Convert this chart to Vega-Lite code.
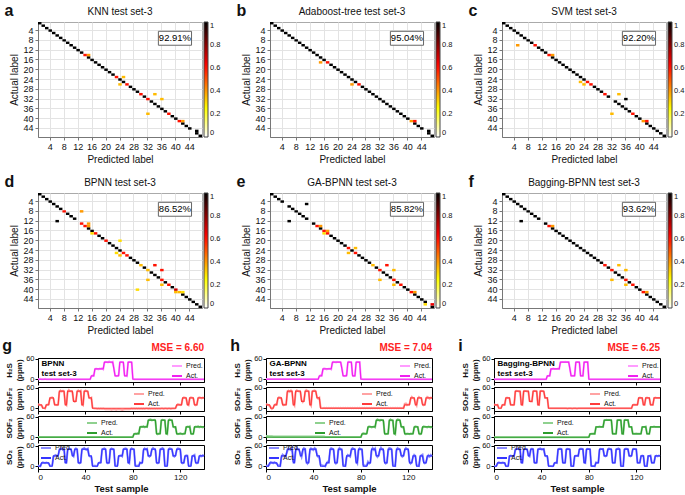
{
"$schema":"https://vega.github.io/schema/vega-lite/v6.json",
"padding":{"left":2,"top":2,"right":2,"bottom":2},
"background":"white",
"config":{
 "font":"Liberation Sans",
 "view":{"stroke":"#000","strokeWidth":1},
 "axis":{"grid":false,"domainColor":"#000","tickColor":"#000","labelColor":"#111","titleColor":"#111","labelFontSize":8,"titleFontSize":9,"tickSize":3,"labelPadding":1,"titlePadding":2,"labelFont":"Liberation Sans","titleFont":"Liberation Sans","zindex":0},
 "legend":{"labelFontSize":7,"symbolSize":100,"symbolStrokeWidth":2,"rowPadding":-1,"padding":0,"labelOffset":3,"labelColor":"#111","labelFont":"Liberation Sans"},
 "title":{"color":"#111","font":"Liberation Sans"}
},
"datasets":{
"cm":[
{"m":"a","p":1,"t":1,"v":1},{"m":"a","p":2,"t":2,"v":1},{"m":"a","p":3,"t":3,"v":1},{"m":"a","p":4,"t":4,"v":1},{"m":"a","p":5,"t":5,"v":1},{"m":"a","p":6,"t":6,"v":1},{"m":"a","p":7,"t":7,"v":1},{"m":"a","p":8,"t":8,"v":1},{"m":"a","p":9,"t":9,"v":1},{"m":"a","p":10,"t":10,"v":1},{"m":"a","p":11,"t":11,"v":1},{"m":"a","p":12,"t":12,"v":1},{"m":"a","p":13,"t":13,"v":1},{"m":"a","p":14,"t":14,"v":0.6},{"m":"a","p":15,"t":15,"v":1},{"m":"a","p":16,"t":16,"v":1},{"m":"a","p":17,"t":17,"v":1},{"m":"a","p":18,"t":18,"v":1},{"m":"a","p":19,"t":19,"v":1},{"m":"a","p":20,"t":20,"v":1},{"m":"a","p":21,"t":21,"v":1},{"m":"a","p":22,"t":22,"v":1},{"m":"a","p":23,"t":23,"v":0.6},{"m":"a","p":24,"t":24,"v":1},{"m":"a","p":25,"t":25,"v":1},{"m":"a","p":26,"t":26,"v":0.6},{"m":"a","p":27,"t":27,"v":1},{"m":"a","p":28,"t":28,"v":1},{"m":"a","p":29,"t":29,"v":1},{"m":"a","p":30,"t":30,"v":0.6},{"m":"a","p":31,"t":31,"v":1},{"m":"a","p":32,"t":32,"v":0.6},{"m":"a","p":33,"t":33,"v":1},{"m":"a","p":34,"t":34,"v":1},{"m":"a","p":35,"t":35,"v":1},{"m":"a","p":36,"t":36,"v":1},{"m":"a","p":37,"t":37,"v":1},{"m":"a","p":38,"t":38,"v":0.6},{"m":"a","p":39,"t":39,"v":1},{"m":"a","p":40,"t":40,"v":1},{"m":"a","p":41,"t":41,"v":0.6},{"m":"a","p":42,"t":42,"v":1},{"m":"a","p":43,"t":43,"v":1},{"m":"a","p":44,"t":44,"v":1},{"m":"a","p":46,"t":46,"v":1},{"m":"a","p":47,"t":47,"v":1},
{"m":"a","p":15,"t":14,"v":0.4},{"m":"a","p":25,"t":23,"v":0.35},{"m":"a","p":24,"t":26,"v":0.35},{"m":"a","p":34,"t":30,"v":0.35},{"m":"a","p":36,"t":32,"v":0.35},{"m":"a","p":32,"t":38,"v":0.35},{"m":"a","p":42,"t":41,"v":0.4},{"m":"a","p":46,"t":45,"v":1},
{"m":"b","p":1,"t":1,"v":1},{"m":"b","p":2,"t":2,"v":1},{"m":"b","p":3,"t":3,"v":1},{"m":"b","p":4,"t":4,"v":1},{"m":"b","p":5,"t":5,"v":1},{"m":"b","p":6,"t":6,"v":1},{"m":"b","p":7,"t":7,"v":1},{"m":"b","p":8,"t":8,"v":1},{"m":"b","p":9,"t":9,"v":1},{"m":"b","p":10,"t":10,"v":1},{"m":"b","p":11,"t":11,"v":1},{"m":"b","p":12,"t":12,"v":1},{"m":"b","p":13,"t":13,"v":1},{"m":"b","p":14,"t":14,"v":1},{"m":"b","p":15,"t":15,"v":1},{"m":"b","p":16,"t":16,"v":1},{"m":"b","p":17,"t":17,"v":0.6},{"m":"b","p":18,"t":18,"v":1},{"m":"b","p":19,"t":19,"v":1},{"m":"b","p":20,"t":20,"v":1},{"m":"b","p":21,"t":21,"v":1},{"m":"b","p":22,"t":22,"v":1},{"m":"b","p":23,"t":23,"v":1},{"m":"b","p":24,"t":24,"v":1},{"m":"b","p":25,"t":25,"v":1},{"m":"b","p":26,"t":26,"v":0.6},{"m":"b","p":27,"t":27,"v":1},{"m":"b","p":28,"t":28,"v":1},{"m":"b","p":29,"t":29,"v":1},{"m":"b","p":30,"t":30,"v":1},{"m":"b","p":31,"t":31,"v":1},{"m":"b","p":32,"t":32,"v":1},{"m":"b","p":33,"t":33,"v":1},{"m":"b","p":34,"t":34,"v":1},{"m":"b","p":35,"t":35,"v":1},{"m":"b","p":36,"t":36,"v":1},{"m":"b","p":37,"t":37,"v":1},{"m":"b","p":38,"t":38,"v":1},{"m":"b","p":39,"t":39,"v":1},{"m":"b","p":40,"t":40,"v":1},{"m":"b","p":41,"t":41,"v":0.4},{"m":"b","p":42,"t":42,"v":1},{"m":"b","p":43,"t":43,"v":1},{"m":"b","p":44,"t":44,"v":1},{"m":"b","p":46,"t":46,"v":1},{"m":"b","p":47,"t":47,"v":1},
{"m":"b","p":15,"t":17,"v":0.4},{"m":"b","p":24,"t":26,"v":0.4},{"m":"b","p":42,"t":41,"v":0.6},{"m":"b","p":46,"t":45,"v":1},
{"m":"c","p":1,"t":1,"v":1},{"m":"c","p":2,"t":2,"v":1},{"m":"c","p":3,"t":3,"v":1},{"m":"c","p":4,"t":4,"v":1},{"m":"c","p":5,"t":5,"v":1},{"m":"c","p":6,"t":6,"v":1},{"m":"c","p":7,"t":7,"v":1},{"m":"c","p":8,"t":8,"v":1},{"m":"c","p":9,"t":9,"v":1},{"m":"c","p":10,"t":10,"v":0.6},{"m":"c","p":11,"t":11,"v":1},{"m":"c","p":12,"t":12,"v":1},{"m":"c","p":13,"t":13,"v":1},{"m":"c","p":14,"t":14,"v":0.6},{"m":"c","p":15,"t":15,"v":1},{"m":"c","p":16,"t":16,"v":1},{"m":"c","p":17,"t":17,"v":1},{"m":"c","p":18,"t":18,"v":1},{"m":"c","p":19,"t":19,"v":1},{"m":"c","p":20,"t":20,"v":1},{"m":"c","p":21,"t":21,"v":1},{"m":"c","p":22,"t":22,"v":1},{"m":"c","p":23,"t":23,"v":1},{"m":"c","p":24,"t":24,"v":1},{"m":"c","p":25,"t":25,"v":0.6},{"m":"c","p":26,"t":26,"v":0.6},{"m":"c","p":27,"t":27,"v":1},{"m":"c","p":28,"t":28,"v":1},{"m":"c","p":29,"t":29,"v":1},{"m":"c","p":30,"t":30,"v":0.6},{"m":"c","p":31,"t":31,"v":1},{"m":"c","p":33,"t":33,"v":1},{"m":"c","p":34,"t":34,"v":1},{"m":"c","p":35,"t":35,"v":1},{"m":"c","p":36,"t":36,"v":1},{"m":"c","p":37,"t":37,"v":1},{"m":"c","p":38,"t":38,"v":0.6},{"m":"c","p":39,"t":39,"v":1},{"m":"c","p":40,"t":40,"v":1},{"m":"c","p":41,"t":41,"v":0.4},{"m":"c","p":42,"t":42,"v":1},{"m":"c","p":43,"t":43,"v":1},{"m":"c","p":44,"t":44,"v":1},{"m":"c","p":45,"t":45,"v":1},{"m":"c","p":46,"t":46,"v":1},{"m":"c","p":47,"t":47,"v":1},
{"m":"c","p":5,"t":10,"v":0.4},{"m":"c","p":15,"t":14,"v":0.4},{"m":"c","p":23,"t":25,"v":0.35},{"m":"c","p":24,"t":26,"v":0.35},{"m":"c","p":34,"t":30,"v":0.35},{"m":"c","p":36,"t":32,"v":1},{"m":"c","p":32,"t":38,"v":0.35},{"m":"c","p":42,"t":41,"v":0.6},
{"m":"d","p":1,"t":1,"v":1},{"m":"d","p":2,"t":2,"v":1},{"m":"d","p":3,"t":3,"v":1},{"m":"d","p":4,"t":4,"v":1},{"m":"d","p":5,"t":5,"v":1},{"m":"d","p":6,"t":6,"v":1},{"m":"d","p":7,"t":7,"v":1},{"m":"d","p":8,"t":8,"v":0.6},{"m":"d","p":9,"t":9,"v":1},{"m":"d","p":10,"t":10,"v":1},{"m":"d","p":11,"t":11,"v":1},{"m":"d","p":13,"t":13,"v":0.6},{"m":"d","p":14,"t":14,"v":0.6},{"m":"d","p":15,"t":15,"v":1},{"m":"d","p":16,"t":16,"v":1},{"m":"d","p":17,"t":17,"v":0.6},{"m":"d","p":18,"t":18,"v":1},{"m":"d","p":19,"t":19,"v":1},{"m":"d","p":20,"t":20,"v":0.6},{"m":"d","p":21,"t":21,"v":1},{"m":"d","p":22,"t":22,"v":1},{"m":"d","p":23,"t":23,"v":1},{"m":"d","p":24,"t":24,"v":1},{"m":"d","p":25,"t":25,"v":0.6},{"m":"d","p":26,"t":26,"v":0.6},{"m":"d","p":27,"t":27,"v":1},{"m":"d","p":28,"t":28,"v":1},{"m":"d","p":29,"t":29,"v":1},{"m":"d","p":30,"t":30,"v":0.35},{"m":"d","p":31,"t":31,"v":1},{"m":"d","p":32,"t":32,"v":0.35},{"m":"d","p":33,"t":33,"v":1},{"m":"d","p":34,"t":34,"v":1},{"m":"d","p":35,"t":35,"v":1},{"m":"d","p":36,"t":36,"v":0.6},{"m":"d","p":37,"t":37,"v":1},{"m":"d","p":38,"t":38,"v":0.6},{"m":"d","p":39,"t":39,"v":1},{"m":"d","p":40,"t":40,"v":0.7},{"m":"d","p":41,"t":41,"v":0.35},{"m":"d","p":42,"t":42,"v":1},{"m":"d","p":43,"t":43,"v":1},{"m":"d","p":44,"t":44,"v":1},{"m":"d","p":45,"t":45,"v":1},{"m":"d","p":46,"t":46,"v":1},{"m":"d","p":47,"t":47,"v":1},
{"m":"d","p":13,"t":8,"v":0.4},{"m":"d","p":6,"t":12,"v":1},{"m":"d","p":15,"t":13,"v":0.4},{"m":"d","p":15,"t":14,"v":0.4},{"m":"d","p":16,"t":17,"v":0.3},{"m":"d","p":24,"t":20,"v":0.3},{"m":"d","p":23,"t":25,"v":0.3},{"m":"d","p":24,"t":26,"v":0.35},{"m":"d","p":34,"t":30,"v":0.6},{"m":"d","p":36,"t":32,"v":0.6},{"m":"d","p":32,"t":36,"v":0.35},{"m":"d","p":36,"t":38,"v":0.35},{"m":"d","p":29,"t":40,"v":0.3},{"m":"d","p":40,"t":41,"v":0.35},{"m":"d","p":42,"t":41,"v":0.3},
{"m":"e","p":1,"t":1,"v":1},{"m":"e","p":2,"t":2,"v":1},{"m":"e","p":3,"t":3,"v":1},{"m":"e","p":4,"t":4,"v":1},{"m":"e","p":6,"t":6,"v":1},{"m":"e","p":7,"t":7,"v":1},{"m":"e","p":8,"t":8,"v":1},{"m":"e","p":9,"t":9,"v":1},{"m":"e","p":10,"t":10,"v":1},{"m":"e","p":11,"t":11,"v":1},{"m":"e","p":13,"t":13,"v":1},{"m":"e","p":14,"t":14,"v":0.6},{"m":"e","p":15,"t":15,"v":1},{"m":"e","p":16,"t":16,"v":0.6},{"m":"e","p":17,"t":17,"v":0.6},{"m":"e","p":18,"t":18,"v":1},{"m":"e","p":19,"t":19,"v":1},{"m":"e","p":20,"t":20,"v":1},{"m":"e","p":21,"t":21,"v":1},{"m":"e","p":22,"t":22,"v":1},{"m":"e","p":23,"t":23,"v":0.6},{"m":"e","p":24,"t":24,"v":1},{"m":"e","p":25,"t":25,"v":0.6},{"m":"e","p":26,"t":26,"v":1},{"m":"e","p":27,"t":27,"v":1},{"m":"e","p":28,"t":28,"v":1},{"m":"e","p":29,"t":29,"v":1},{"m":"e","p":30,"t":30,"v":0.35},{"m":"e","p":31,"t":31,"v":1},{"m":"e","p":32,"t":32,"v":0.6},{"m":"e","p":33,"t":33,"v":1},{"m":"e","p":34,"t":34,"v":1},{"m":"e","p":35,"t":35,"v":1},{"m":"e","p":36,"t":36,"v":0.6},{"m":"e","p":37,"t":37,"v":1},{"m":"e","p":38,"t":38,"v":0.6},{"m":"e","p":39,"t":39,"v":1},{"m":"e","p":40,"t":40,"v":1},{"m":"e","p":41,"t":41,"v":0.6},{"m":"e","p":42,"t":42,"v":1},{"m":"e","p":43,"t":43,"v":1},{"m":"e","p":44,"t":44,"v":1},{"m":"e","p":45,"t":45,"v":1},{"m":"e","p":47,"t":47,"v":1},
{"m":"e","p":11,"t":5,"v":1},{"m":"e","p":6,"t":12,"v":1},{"m":"e","p":15,"t":14,"v":0.4},{"m":"e","p":17,"t":16,"v":0.4},{"m":"e","p":16,"t":17,"v":0.3},{"m":"e","p":25,"t":23,"v":0.35},{"m":"e","p":23,"t":25,"v":0.35},{"m":"e","p":34,"t":30,"v":0.6},{"m":"e","p":36,"t":32,"v":0.35},{"m":"e","p":32,"t":36,"v":0.35},{"m":"e","p":36,"t":38,"v":0.35},{"m":"e","p":42,"t":41,"v":0.4},{"m":"e","p":45,"t":46,"v":0.3},{"m":"e","p":47,"t":46,"v":0.65},
{"m":"f","p":1,"t":1,"v":1},{"m":"f","p":2,"t":2,"v":1},{"m":"f","p":3,"t":3,"v":1},{"m":"f","p":4,"t":4,"v":1},{"m":"f","p":5,"t":5,"v":1},{"m":"f","p":6,"t":6,"v":1},{"m":"f","p":7,"t":7,"v":1},{"m":"f","p":8,"t":8,"v":1},{"m":"f","p":9,"t":9,"v":1},{"m":"f","p":10,"t":10,"v":1},{"m":"f","p":11,"t":11,"v":1},{"m":"f","p":13,"t":13,"v":1},{"m":"f","p":14,"t":14,"v":0.6},{"m":"f","p":15,"t":15,"v":1},{"m":"f","p":16,"t":16,"v":1},{"m":"f","p":17,"t":17,"v":1},{"m":"f","p":18,"t":18,"v":1},{"m":"f","p":19,"t":19,"v":1},{"m":"f","p":20,"t":20,"v":1},{"m":"f","p":21,"t":21,"v":1},{"m":"f","p":22,"t":22,"v":1},{"m":"f","p":23,"t":23,"v":1},{"m":"f","p":24,"t":24,"v":1},{"m":"f","p":25,"t":25,"v":1},{"m":"f","p":26,"t":26,"v":1},{"m":"f","p":27,"t":27,"v":1},{"m":"f","p":28,"t":28,"v":1},{"m":"f","p":29,"t":29,"v":1},{"m":"f","p":30,"t":30,"v":0.6},{"m":"f","p":31,"t":31,"v":1},{"m":"f","p":32,"t":32,"v":0.6},{"m":"f","p":33,"t":33,"v":1},{"m":"f","p":34,"t":34,"v":1},{"m":"f","p":35,"t":35,"v":1},{"m":"f","p":36,"t":36,"v":0.6},{"m":"f","p":37,"t":37,"v":1},{"m":"f","p":38,"t":38,"v":0.6},{"m":"f","p":39,"t":39,"v":1},{"m":"f","p":40,"t":40,"v":1},{"m":"f","p":41,"t":41,"v":0.6},{"m":"f","p":42,"t":42,"v":1},{"m":"f","p":43,"t":43,"v":1},{"m":"f","p":44,"t":44,"v":1},{"m":"f","p":45,"t":45,"v":1},{"m":"f","p":46,"t":46,"v":1},{"m":"f","p":47,"t":47,"v":1},
{"m":"f","p":6,"t":12,"v":1},{"m":"f","p":15,"t":14,"v":0.4},{"m":"f","p":34,"t":30,"v":0.35},{"m":"f","p":36,"t":32,"v":0.35},{"m":"f","p":32,"t":36,"v":0.35},{"m":"f","p":36,"t":38,"v":0.35},{"m":"f","p":42,"t":41,"v":0.4}
],
"ts":[
{"s":0,"h":0,"f":10,"o":0,"d":0,"bh":0,"bf":12,"bo":1,"bd":2,"gh":1,"gf":13,"go":4,"gd":1,"kh":0,"kf":11,"ko":0,"kd":1},
{"s":1,"h":0,"f":10,"o":0,"d":0,"bh":0,"bf":11,"bo":1,"bd":1,"gh":1,"gf":11,"go":4,"gd":2,"kh":0,"kf":10,"ko":0,"kd":0},
{"s":2,"h":0,"f":10,"o":0,"d":0,"bh":1,"bf":9,"bo":1,"bd":0,"gh":1,"gf":9,"go":3,"gd":1,"kh":0,"kf":9,"ko":0,"kd":1},
{"s":3,"h":0,"f":10,"o":0,"d":10,"bh":0,"bf":8,"bo":1,"bd":8,"gh":1,"gf":7,"go":3,"gd":6,"kh":0,"kf":10,"ko":0,"kd":8},
{"s":4,"h":0,"f":0,"o":0,"d":10,"bh":0,"bf":2,"bo":1,"bd":11,"gh":1,"gf":3,"go":3,"gd":12,"kh":0,"kf":1,"ko":0,"kd":11},
{"s":5,"h":0,"f":0,"o":0,"d":10,"bh":0,"bf":1,"bo":1,"bd":10,"gh":1,"gf":-2,"go":3,"gd":11,"kh":0,"kf":0,"ko":0,"kd":10},
{"s":6,"h":0,"f":0,"o":0,"d":10,"bh":1,"bf":-1,"bo":1,"bd":9,"gh":1,"gf":1,"go":2,"gd":9,"kh":0,"kf":1,"ko":0,"kd":9},
{"s":7,"h":0,"f":10,"o":0,"d":10,"bh":0,"bf":9,"bo":1,"bd":11,"gh":1,"gf":8,"go":2,"gd":12,"kh":0,"kf":9,"ko":0,"kd":11},
{"s":8,"h":0,"f":10,"o":0,"d":10,"bh":0,"bf":11,"bo":1,"bd":10,"gh":1,"gf":12,"go":2,"gd":10,"kh":0,"kf":11,"ko":0,"kd":10},
{"s":9,"h":0,"f":10,"o":0,"d":10,"bh":0,"bf":12,"bo":1,"bd":8,"gh":1,"gf":11,"go":2,"gd":8,"kh":0,"kf":10,"ko":0,"kd":9},
{"s":10,"h":0,"f":30,"o":0,"d":0,"bh":0,"bf":27,"bo":1,"bd":2,"gh":1,"gf":26,"go":2,"gd":4,"kh":0,"kf":28,"ko":0,"kd":1},
{"s":11,"h":0,"f":30,"o":0,"d":0,"bh":0,"bf":31,"bo":1,"bd":1,"gh":1,"gf":32,"go":2,"gd":2,"kh":0,"kf":31,"ko":0,"kd":0},
{"s":12,"h":0,"f":30,"o":0,"d":0,"bh":0,"bf":32,"bo":1,"bd":3,"gh":1,"gf":31,"go":2,"gd":1,"kh":0,"kf":30,"ko":0,"kd":2},
{"s":13,"h":0,"f":30,"o":0,"d":30,"bh":0,"bf":28,"bo":1,"bd":27,"gh":1,"gf":27,"go":2,"gd":25,"kh":0,"kf":29,"ko":0,"kd":28},
{"s":14,"h":0,"f":10,"o":0,"d":30,"bh":0,"bf":12,"bo":1,"bd":31,"gh":1,"gf":14,"go":2,"gd":34,"kh":0,"kf":11,"ko":0,"kd":31},
{"s":15,"h":0,"f":10,"o":0,"d":30,"bh":0,"bf":10,"bo":1,"bd":33,"gh":1,"gf":9,"go":2,"gd":31,"kh":0,"kf":10,"ko":0,"kd":30},
{"s":16,"h":0,"f":10,"o":0,"d":30,"bh":0,"bf":9,"bo":1,"bd":29,"gh":1,"gf":11,"go":2,"gd":28,"kh":0,"kf":9,"ko":0,"kd":29},
{"s":17,"h":0,"f":10,"o":0,"d":30,"bh":0,"bf":11,"bo":1,"bd":32,"gh":1,"gf":12,"go":2,"gd":35,"kh":0,"kf":11,"ko":0,"kd":31},
{"s":18,"h":0,"f":50,"o":0,"d":50,"bh":0,"bf":46,"bo":1,"bd":45,"gh":1,"gf":45,"go":2,"gd":44,"kh":0,"kf":48,"ko":0,"kd":47},
{"s":19,"h":0,"f":50,"o":0,"d":50,"bh":0,"bf":52,"bo":1,"bd":51,"gh":1,"gf":51,"go":2,"gd":52,"kh":0,"kf":51,"ko":0,"kd":51},
{"s":20,"h":0,"f":50,"o":0,"d":50,"bh":0,"bf":49,"bo":1,"bd":53,"gh":1,"gf":48,"go":2,"gd":49,"kh":0,"kf":50,"ko":0,"kd":52},
{"s":21,"h":0,"f":50,"o":0,"d":50,"bh":0,"bf":51,"bo":1,"bd":48,"gh":1,"gf":52,"go":2,"gd":47,"kh":0,"kf":49,"ko":0,"kd":49},
{"s":22,"h":0,"f":50,"o":0,"d":50,"bh":0,"bf":47,"bo":1,"bd":50,"gh":1,"gf":46,"go":2,"gd":53,"kh":0,"kf":48,"ko":0,"kd":50},
{"s":23,"h":0,"f":10,"o":0,"d":10,"bh":0,"bf":13,"bo":1,"bd":12,"gh":1,"gf":14,"go":2,"gd":15,"kh":0,"kf":12,"ko":0,"kd":12},
{"s":24,"h":0,"f":10,"o":0,"d":10,"bh":0,"bf":9,"bo":1,"bd":11,"gh":1,"gf":8,"go":2,"gd":13,"kh":0,"kf":10,"ko":0,"kd":11},
{"s":25,"h":0,"f":50,"o":0,"d":50,"bh":0,"bf":47,"bo":1,"bd":46,"gh":1,"gf":46,"go":2,"gd":43,"kh":0,"kf":48,"ko":0,"kd":47},
{"s":26,"h":0,"f":50,"o":0,"d":50,"bh":0,"bf":53,"bo":1,"bd":52,"gh":1,"gf":52,"go":2,"gd":54,"kh":0,"kf":51,"ko":0,"kd":51},
{"s":27,"h":0,"f":50,"o":0,"d":50,"bh":0,"bf":49,"bo":1,"bd":51,"gh":1,"gf":50,"go":2,"gd":49,"kh":0,"kf":50,"ko":0,"kd":50},
{"s":28,"h":0,"f":50,"o":0,"d":50,"bh":0,"bf":50,"bo":1,"bd":47,"gh":1,"gf":49,"go":2,"gd":46,"kh":0,"kf":49,"ko":0,"kd":48},
{"s":29,"h":0,"f":50,"o":0,"d":30,"bh":0,"bf":46,"bo":1,"bd":33,"gh":1,"gf":47,"go":2,"gd":36,"kh":0,"kf":48,"ko":0,"kd":32},
{"s":30,"h":0,"f":20,"o":0,"d":30,"bh":0,"bf":22,"bo":1,"bd":29,"gh":1,"gf":24,"go":2,"gd":27,"kh":0,"kf":21,"ko":0,"kd":29},
{"s":31,"h":0,"f":20,"o":0,"d":50,"bh":0,"bf":19,"bo":1,"bd":47,"gh":1,"gf":18,"go":2,"gd":44,"kh":0,"kf":20,"ko":0,"kd":48},
{"s":32,"h":0,"f":20,"o":0,"d":50,"bh":0,"bf":21,"bo":1,"bd":52,"gh":1,"gf":22,"go":2,"gd":53,"kh":0,"kf":20,"ko":0,"kd":51},
{"s":33,"h":0,"f":50,"o":0,"d":50,"bh":0,"bf":47,"bo":1,"bd":49,"gh":1,"gf":46,"go":2,"gd":51,"kh":0,"kf":48,"ko":0,"kd":49},
{"s":34,"h":0,"f":50,"o":0,"d":10,"bh":0,"bf":52,"bo":1,"bd":12,"gh":1,"gf":53,"go":2,"gd":16,"kh":0,"kf":51,"ko":0,"kd":12},
{"s":35,"h":0,"f":50,"o":0,"d":10,"bh":0,"bf":49,"bo":1,"bd":9,"gh":1,"gf":50,"go":2,"gd":8,"kh":0,"kf":50,"ko":0,"kd":10},
{"s":36,"h":0,"f":50,"o":0,"d":10,"bh":0,"bf":51,"bo":1,"bd":11,"gh":1,"gf":49,"go":2,"gd":13,"kh":0,"kf":49,"ko":0,"kd":11},
{"s":37,"h":0,"f":10,"o":0,"d":50,"bh":0,"bf":12,"bo":1,"bd":46,"gh":1,"gf":14,"go":2,"gd":44,"kh":0,"kf":11,"ko":0,"kd":47},
{"s":38,"h":0,"f":10,"o":0,"d":50,"bh":0,"bf":9,"bo":1,"bd":51,"gh":1,"gf":8,"go":2,"gd":52,"kh":0,"kf":10,"ko":0,"kd":51},
{"s":39,"h":0,"f":50,"o":0,"d":50,"bh":0,"bf":48,"bo":1,"bd":53,"gh":1,"gf":47,"go":2,"gd":49,"kh":0,"kf":49,"ko":0,"kd":52},
{"s":40,"h":0,"f":50,"o":0,"d":50,"bh":0,"bf":52,"bo":1,"bd":49,"gh":1,"gf":51,"go":2,"gd":47,"kh":0,"kf":51,"ko":0,"kd":49},
{"s":41,"h":0,"f":50,"o":0,"d":50,"bh":0,"bf":50,"bo":1,"bd":48,"gh":1,"gf":52,"go":2,"gd":53,"kh":0,"kf":50,"ko":0,"kd":49},
{"s":42,"h":0,"f":50,"o":0,"d":50,"bh":0,"bf":47,"bo":1,"bd":51,"gh":1,"gf":48,"go":2,"gd":50,"kh":0,"kf":48,"ko":0,"kd":50},
{"s":43,"h":0,"f":30,"o":0,"d":30,"bh":0,"bf":31,"bo":1,"bd":32,"gh":1,"gf":33,"go":2,"gd":35,"kh":0,"kf":31,"ko":0,"kd":32},
{"s":44,"h":0,"f":30,"o":0,"d":30,"bh":0,"bf":29,"bo":1,"bd":28,"gh":1,"gf":28,"go":2,"gd":27,"kh":0,"kf":30,"ko":0,"kd":29},
{"s":45,"h":10,"f":30,"o":0,"d":30,"bh":8,"bf":31,"bo":1,"bd":27,"gh":8,"gf":31,"go":2,"gd":24,"kh":9,"kf":30,"ko":0,"kd":28},
{"s":46,"h":10,"f":0,"o":0,"d":0,"bh":11,"bf":2,"bo":1,"bd":2,"gh":12,"gf":3,"go":2,"gd":5,"kh":10,"kf":1,"ko":0,"kd":2},
{"s":47,"h":10,"f":0,"o":0,"d":0,"bh":10,"bf":0,"bo":1,"bd":1,"gh":11,"gf":1,"go":2,"gd":3,"kh":10,"kf":0,"ko":0,"kd":1},
{"s":48,"h":30,"f":0,"o":0,"d":0,"bh":28,"bf":-1,"bo":1,"bd":2,"gh":27,"gf":0,"go":2,"gd":1,"kh":29,"kf":0,"ko":0,"kd":1},
{"s":49,"h":30,"f":0,"o":0,"d":0,"bh":31,"bf":-1,"bo":1,"bd":0,"gh":32,"gf":1,"go":2,"gd":2,"kh":30,"kf":0,"ko":0,"kd":0},
{"s":50,"h":30,"f":0,"o":0,"d":0,"bh":30,"bf":-2,"bo":1,"bd":1,"gh":31,"gf":0,"go":1,"gd":0,"kh":31,"kf":0,"ko":0,"kd":1},
{"s":51,"h":30,"f":0,"o":0,"d":10,"bh":29,"bf":-1,"bo":1,"bd":9,"gh":29,"gf":1,"go":1,"gd":7,"kh":30,"kf":0,"ko":0,"kd":9},
{"s":52,"h":30,"f":0,"o":0,"d":10,"bh":31,"bf":-2,"bo":1,"bd":11,"gh":30,"gf":0,"go":1,"gd":13,"kh":30,"kf":0,"ko":0,"kd":11},
{"s":53,"h":30,"f":0,"o":0,"d":10,"bh":30,"bf":-1,"bo":1,"bd":12,"gh":31,"gf":1,"go":1,"gd":12,"kh":30,"kf":0,"ko":0,"kd":10},
{"s":54,"h":30,"f":0,"o":0,"d":50,"bh":32,"bf":-2,"bo":1,"bd":46,"gh":31,"gf":0,"go":1,"gd":44,"kh":31,"kf":0,"ko":0,"kd":47},
{"s":55,"h":30,"f":0,"o":0,"d":50,"bh":29,"bf":-1,"bo":1,"bd":51,"gh":29,"gf":1,"go":1,"gd":53,"kh":30,"kf":0,"ko":0,"kd":51},
{"s":56,"h":50,"f":0,"o":0,"d":50,"bh":48,"bf":-2,"bo":1,"bd":52,"gh":47,"gf":0,"go":1,"gd":51,"kh":49,"kf":0,"ko":0,"kd":51},
{"s":57,"h":50,"f":0,"o":0,"d":50,"bh":51,"bf":-3,"bo":1,"bd":49,"gh":51,"gf":1,"go":1,"gd":47,"kh":50,"kf":0,"ko":0,"kd":49},
{"s":58,"h":50,"f":0,"o":0,"d":10,"bh":50,"bf":-2,"bo":1,"bd":12,"gh":50,"gf":0,"go":1,"gd":15,"kh":50,"kf":0,"ko":0,"kd":12},
{"s":59,"h":50,"f":0,"o":0,"d":10,"bh":49,"bf":-3,"bo":1,"bd":9,"gh":49,"gf":1,"go":1,"gd":8,"kh":50,"kf":0,"ko":0,"kd":10},
{"s":60,"h":50,"f":0,"o":0,"d":10,"bh":52,"bf":-2,"bo":1,"bd":11,"gh":51,"gf":0,"go":1,"gd":12,"kh":51,"kf":0,"ko":0,"kd":11},
{"s":61,"h":50,"f":0,"o":0,"d":50,"bh":50,"bf":-3,"bo":1,"bd":48,"gh":50,"gf":1,"go":1,"gd":45,"kh":50,"kf":0,"ko":0,"kd":48},
{"s":62,"h":50,"f":0,"o":0,"d":50,"bh":49,"bf":-4,"bo":1,"bd":52,"gh":50,"gf":0,"go":1,"gd":53,"kh":50,"kf":-1,"ko":0,"kd":51},
{"s":63,"h":50,"f":0,"o":0,"d":50,"bh":51,"bf":-3,"bo":1,"bd":50,"gh":49,"gf":1,"go":1,"gd":49,"kh":50,"kf":0,"ko":0,"kd":50},
{"s":64,"h":30,"f":0,"o":0,"d":50,"bh":33,"bf":-2,"bo":1,"bd":47,"gh":34,"gf":0,"go":1,"gd":46,"kh":32,"kf":0,"ko":0,"kd":48},
{"s":65,"h":10,"f":0,"o":0,"d":0,"bh":11,"bf":-3,"bo":1,"bd":3,"gh":12,"gf":1,"go":1,"gd":5,"kh":11,"kf":0,"ko":0,"kd":2},
{"s":66,"h":10,"f":0,"o":0,"d":0,"bh":9,"bf":-4,"bo":1,"bd":1,"gh":9,"gf":0,"go":1,"gd":2,"kh":10,"kf":-1,"ko":0,"kd":1},
{"s":67,"h":10,"f":0,"o":0,"d":0,"bh":10,"bf":-3,"bo":1,"bd":2,"gh":10,"gf":1,"go":1,"gd":1,"kh":10,"kf":0,"ko":0,"kd":1},
{"s":68,"h":10,"f":0,"o":0,"d":30,"bh":12,"bf":-2,"bo":1,"bd":28,"gh":13,"gf":0,"go":1,"gd":26,"kh":11,"kf":0,"ko":0,"kd":28},
{"s":69,"h":50,"f":0,"o":0,"d":30,"bh":47,"bf":-3,"bo":1,"bd":31,"gh":46,"gf":1,"go":1,"gd":33,"kh":48,"kf":0,"ko":0,"kd":31},
{"s":70,"h":50,"f":0,"o":0,"d":30,"bh":51,"bf":-4,"bo":1,"bd":32,"gh":51,"gf":0,"go":1,"gd":31,"kh":50,"kf":-1,"ko":0,"kd":31},
{"s":71,"h":50,"f":0,"o":0,"d":30,"bh":50,"bf":-5,"bo":1,"bd":29,"gh":50,"gf":1,"go":1,"gd":28,"kh":50,"kf":0,"ko":0,"kd":30},
{"s":72,"h":50,"f":0,"o":0,"d":50,"bh":48,"bf":-4,"bo":1,"bd":48,"gh":49,"gf":0,"go":1,"gd":46,"kh":49,"kf":0,"ko":0,"kd":48},
{"s":73,"h":10,"f":0,"o":0,"d":50,"bh":12,"bf":-3,"bo":1,"bd":51,"gh":13,"gf":1,"go":1,"gd":53,"kh":11,"kf":0,"ko":0,"kd":51},
{"s":74,"h":10,"f":0,"o":0,"d":50,"bh":10,"bf":-2,"bo":1,"bd":52,"gh":9,"gf":0,"go":1,"gd":51,"kh":10,"kf":0,"ko":0,"kd":51},
{"s":75,"h":10,"f":0,"o":0,"d":50,"bh":9,"bf":-3,"bo":1,"bd":49,"gh":10,"gf":1,"go":1,"gd":48,"kh":10,"kf":0,"ko":0,"kd":49},
{"s":76,"h":50,"f":0,"o":0,"d":10,"bh":48,"bf":-2,"bo":1,"bd":12,"gh":47,"gf":0,"go":1,"gd":15,"kh":49,"kf":0,"ko":0,"kd":12},
{"s":77,"h":50,"f":0,"o":0,"d":10,"bh":51,"bf":-3,"bo":1,"bd":9,"gh":51,"gf":1,"go":1,"gd":9,"kh":50,"kf":0,"ko":0,"kd":10},
{"s":78,"h":50,"f":0,"o":0,"d":50,"bh":50,"bf":-2,"bo":1,"bd":47,"gh":50,"gf":0,"go":1,"gd":45,"kh":50,"kf":0,"ko":0,"kd":48},
{"s":79,"h":50,"f":0,"o":0,"d":50,"bh":49,"bf":-1,"bo":1,"bd":52,"gh":50,"gf":1,"go":1,"gd":52,"kh":50,"kf":0,"ko":0,"kd":51},
{"s":80,"h":0,"f":0,"o":0,"d":50,"bh":3,"bf":-2,"bo":2,"bd":50,"gh":4,"gf":0,"go":1,"gd":49,"kh":2,"kf":0,"ko":1,"kd":50},
{"s":81,"h":0,"f":0,"o":10,"d":50,"bh":0,"bf":-1,"bo":9,"bd":48,"gh":1,"gf":1,"go":8,"gd":47,"kh":0,"kf":0,"ko":9,"kd":49},
{"s":82,"h":0,"f":0,"o":10,"d":0,"bh":0,"bf":-2,"bo":11,"bd":3,"gh":0,"gf":0,"go":12,"gd":5,"kh":0,"kf":0,"ko":10,"kd":2},
{"s":83,"h":0,"f":0,"o":10,"d":0,"bh":0,"bf":-1,"bo":10,"bd":1,"gh":0,"gf":1,"go":11,"gd":2,"kh":0,"kf":0,"ko":10,"kd":1},
{"s":84,"h":0,"f":0,"o":10,"d":0,"bh":0,"bf":-2,"bo":12,"bd":2,"gh":0,"gf":0,"go":10,"gd":1,"kh":0,"kf":0,"ko":11,"kd":1},
{"s":85,"h":0,"f":0,"o":10,"d":0,"bh":0,"bf":-1,"bo":11,"bd":1,"gh":0,"gf":1,"go":12,"gd":3,"kh":0,"kf":0,"ko":10,"kd":0},
{"s":86,"h":0,"f":0,"o":30,"d":10,"bh":0,"bf":-2,"bo":28,"bd":11,"gh":0,"gf":0,"go":27,"gd":13,"kh":0,"kf":0,"ko":29,"kd":11},
{"s":87,"h":0,"f":0,"o":30,"d":10,"bh":0,"bf":-1,"bo":31,"bd":9,"gh":0,"gf":1,"go":32,"gd":8,"kh":0,"kf":0,"ko":30,"kd":10},
{"s":88,"h":0,"f":0,"o":30,"d":10,"bh":0,"bf":-2,"bo":30,"bd":12,"gh":0,"gf":0,"go":31,"gd":11,"kh":0,"kf":0,"ko":30,"kd":11},
{"s":89,"h":0,"f":0,"o":30,"d":50,"bh":0,"bf":-1,"bo":32,"bd":46,"gh":0,"gf":1,"go":29,"gd":44,"kh":0,"kf":0,"ko":31,"kd":47},
{"s":90,"h":0,"f":0,"o":30,"d":50,"bh":0,"bf":-2,"bo":29,"bd":52,"gh":0,"gf":0,"go":30,"gd":53,"kh":0,"kf":0,"ko":30,"kd":51},
{"s":91,"h":0,"f":0,"o":30,"d":50,"bh":0,"bf":-1,"bo":31,"bd":49,"gh":0,"gf":1,"go":31,"gd":48,"kh":0,"kf":0,"ko":30,"kd":50},
{"s":92,"h":0,"f":0,"o":30,"d":50,"bh":0,"bf":-1,"bo":30,"bd":51,"gh":0,"gf":0,"go":29,"gd":52,"kh":0,"kf":0,"ko":30,"kd":50},
{"s":93,"h":0,"f":0,"o":50,"d":30,"bh":0,"bf":-2,"bo":48,"bd":31,"gh":0,"gf":1,"go":47,"gd":34,"kh":0,"kf":0,"ko":49,"kd":31},
{"s":94,"h":0,"f":0,"o":50,"d":30,"bh":0,"bf":-1,"bo":51,"bd":28,"gh":0,"gf":0,"go":52,"gd":27,"kh":0,"kf":0,"ko":50,"kd":29},
{"s":95,"h":0,"f":0,"o":50,"d":30,"bh":0,"bf":-2,"bo":52,"bd":32,"gh":0,"gf":1,"go":50,"gd":31,"kh":0,"kf":0,"ko":51,"kd":31},
{"s":96,"h":0,"f":0,"o":50,"d":50,"bh":0,"bf":-1,"bo":49,"bd":48,"gh":0,"gf":0,"go":48,"gd":45,"kh":0,"kf":0,"ko":50,"kd":48},
{"s":97,"h":0,"f":0,"o":50,"d":50,"bh":0,"bf":-2,"bo":50,"bd":53,"gh":0,"gf":1,"go":51,"gd":54,"kh":0,"kf":0,"ko":50,"kd":52},
{"s":98,"h":0,"f":0,"o":50,"d":50,"bh":0,"bf":-1,"bo":51,"bd":50,"gh":0,"gf":0,"go":50,"gd":49,"kh":0,"kf":0,"ko":50,"kd":50},
{"s":99,"h":0,"f":0,"o":50,"d":50,"bh":0,"bf":-2,"bo":48,"bd":47,"gh":0,"gf":1,"go":47,"gd":46,"kh":0,"kf":0,"ko":49,"kd":48},
{"s":100,"h":0,"f":0,"o":10,"d":10,"bh":0,"bf":-1,"bo":12,"bd":11,"gh":0,"gf":0,"go":13,"gd":14,"kh":0,"kf":0,"ko":11,"kd":11},
{"s":101,"h":0,"f":0,"o":10,"d":10,"bh":0,"bf":-2,"bo":9,"bd":9,"gh":0,"gf":1,"go":9,"gd":8,"kh":0,"kf":0,"ko":10,"kd":10},
{"s":102,"h":0,"f":0,"o":10,"d":10,"bh":0,"bf":-1,"bo":11,"bd":12,"gh":0,"gf":0,"go":10,"gd":11,"kh":0,"kf":0,"ko":10,"kd":11},
{"s":103,"h":0,"f":0,"o":10,"d":50,"bh":0,"bf":-2,"bo":12,"bd":46,"gh":0,"gf":1,"go":11,"gd":43,"kh":0,"kf":0,"ko":11,"kd":47},
{"s":104,"h":0,"f":0,"o":50,"d":50,"bh":0,"bf":-1,"bo":48,"bd":51,"gh":0,"gf":0,"go":47,"gd":53,"kh":0,"kf":0,"ko":49,"kd":51},
{"s":105,"h":0,"f":0,"o":50,"d":50,"bh":0,"bf":-1,"bo":51,"bd":53,"gh":0,"gf":1,"go":52,"gd":52,"kh":0,"kf":0,"ko":50,"kd":52},
{"s":106,"h":0,"f":0,"o":50,"d":50,"bh":0,"bf":-2,"bo":50,"bd":49,"gh":0,"gf":0,"go":49,"gd":47,"kh":0,"kf":0,"ko":50,"kd":49},
{"s":107,"h":0,"f":0,"o":50,"d":0,"bh":0,"bf":-1,"bo":49,"bd":2,"gh":0,"gf":1,"go":48,"gd":4,"kh":0,"kf":0,"ko":49,"kd":2},
{"s":108,"h":0,"f":0,"o":10,"d":0,"bh":0,"bf":-1,"bo":11,"bd":1,"gh":0,"gf":0,"go":12,"gd":2,"kh":0,"kf":0,"ko":11,"kd":1},
{"s":109,"h":0,"f":0,"o":10,"d":0,"bh":0,"bf":-2,"bo":9,"bd":3,"gh":0,"gf":1,"go":9,"gd":1,"kh":0,"kf":0,"ko":10,"kd":1},
{"s":110,"h":0,"f":0,"o":50,"d":50,"bh":0,"bf":-1,"bo":48,"bd":47,"gh":0,"gf":0,"go":46,"gd":44,"kh":0,"kf":0,"ko":49,"kd":48},
{"s":111,"h":0,"f":0,"o":50,"d":50,"bh":0,"bf":-1,"bo":52,"bd":52,"gh":0,"gf":1,"go":52,"gd":53,"kh":0,"kf":0,"ko":51,"kd":51},
{"s":112,"h":0,"f":0,"o":50,"d":50,"bh":0,"bf":-2,"bo":50,"bd":51,"gh":0,"gf":0,"go":51,"gd":50,"kh":0,"kf":0,"ko":50,"kd":51},
{"s":113,"h":0,"f":0,"o":50,"d":50,"bh":0,"bf":-1,"bo":49,"bd":48,"gh":0,"gf":1,"go":48,"gd":47,"kh":0,"kf":0,"ko":50,"kd":49},
{"s":114,"h":0,"f":0,"o":30,"d":30,"bh":0,"bf":-1,"bo":31,"bd":31,"gh":0,"gf":0,"go":33,"gd":34,"kh":0,"kf":0,"ko":31,"kd":31},
{"s":115,"h":0,"f":0,"o":30,"d":30,"bh":0,"bf":-1,"bo":29,"bd":28,"gh":0,"gf":1,"go":29,"gd":28,"kh":0,"kf":0,"ko":30,"kd":29},
{"s":116,"h":0,"f":0,"o":30,"d":30,"bh":0,"bf":0,"bo":30,"bd":32,"gh":0,"gf":0,"go":30,"gd":31,"kh":0,"kf":0,"ko":30,"kd":31},
{"s":117,"h":0,"f":10,"o":10,"d":50,"bh":0,"bf":8,"bo":11,"bd":47,"gh":0,"gf":13,"go":12,"gd":45,"kh":0,"kf":9,"ko":11,"kd":48},
{"s":118,"h":0,"f":10,"o":10,"d":50,"bh":0,"bf":12,"bo":9,"bd":52,"gh":0,"gf":14,"go":9,"gd":53,"kh":0,"kf":11,"ko":10,"kd":51},
{"s":119,"h":0,"f":10,"o":10,"d":50,"bh":0,"bf":11,"bo":10,"bd":51,"gh":0,"gf":9,"go":11,"gd":50,"kh":0,"kf":10,"ko":10,"kd":50},
{"s":120,"h":0,"f":10,"o":10,"d":50,"bh":0,"bf":9,"bo":12,"bd":48,"gh":0,"gf":11,"go":10,"gd":47,"kh":0,"kf":10,"ko":11,"kd":49},
{"s":121,"h":0,"f":10,"o":10,"d":10,"bh":0,"bf":11,"bo":10,"bd":12,"gh":0,"gf":12,"go":9,"gd":15,"kh":0,"kf":11,"ko":10,"kd":11},
{"s":122,"h":0,"f":30,"o":10,"d":10,"bh":0,"bf":28,"bo":9,"bd":9,"gh":0,"gf":26,"go":11,"gd":8,"kh":0,"kf":29,"ko":10,"kd":10},
{"s":123,"h":0,"f":30,"o":10,"d":10,"bh":0,"bf":32,"bo":11,"bd":11,"gh":0,"gf":33,"go":10,"gd":12,"kh":0,"kf":31,"ko":10,"kd":11},
{"s":124,"h":0,"f":30,"o":10,"d":30,"bh":0,"bf":31,"bo":12,"bd":28,"gh":0,"gf":30,"go":11,"gd":26,"kh":0,"kf":30,"ko":11,"kd":29},
{"s":125,"h":0,"f":30,"o":30,"d":30,"bh":0,"bf":27,"bo":29,"bd":32,"gh":0,"gf":28,"go":27,"gd":33,"kh":0,"kf":29,"ko":29,"kd":31},
{"s":126,"h":0,"f":10,"o":30,"d":30,"bh":0,"bf":12,"bo":31,"bd":31,"gh":0,"gf":14,"go":32,"gd":30,"kh":0,"kf":11,"ko":30,"kd":30},
{"s":127,"h":0,"f":10,"o":30,"d":0,"bh":0,"bf":9,"bo":30,"bd":2,"gh":0,"gf":8,"go":31,"gd":4,"kh":0,"kf":10,"ko":30,"kd":2},
{"s":128,"h":0,"f":30,"o":30,"d":0,"bh":0,"bf":29,"bo":32,"bd":1,"gh":0,"gf":27,"go":30,"gd":2,"kh":0,"kf":29,"ko":31,"kd":1},
{"s":129,"h":0,"f":30,"o":10,"d":0,"bh":0,"bf":32,"bo":11,"bd":3,"gh":0,"gf":33,"go":13,"gd":1,"kh":0,"kf":31,"ko":11,"kd":1},
{"s":130,"h":0,"f":30,"o":10,"d":30,"bh":0,"bf":31,"bo":9,"bd":28,"gh":0,"gf":30,"go":9,"gd":26,"kh":0,"kf":30,"ko":10,"kd":29},
{"s":131,"h":0,"f":30,"o":10,"d":30,"bh":0,"bf":28,"bo":10,"bd":31,"gh":0,"gf":29,"go":11,"gd":32,"kh":0,"kf":29,"ko":10,"kd":30},
{"s":132,"h":0,"f":10,"o":30,"d":30,"bh":0,"bf":12,"bo":29,"bd":33,"gh":0,"gf":14,"go":27,"gd":34,"kh":0,"kf":11,"ko":29,"kd":31},
{"s":133,"h":0,"f":10,"o":30,"d":10,"bh":0,"bf":9,"bo":31,"bd":12,"gh":0,"gf":9,"go":32,"gd":14,"kh":0,"kf":10,"ko":30,"kd":11},
{"s":134,"h":0,"f":10,"o":30,"d":10,"bh":0,"bf":11,"bo":30,"bd":9,"gh":0,"gf":11,"go":31,"gd":9,"kh":0,"kf":10,"ko":30,"kd":10},
{"s":135,"h":0,"f":30,"o":30,"d":10,"bh":0,"bf":28,"bo":32,"bd":11,"gh":0,"gf":27,"go":30,"gd":12,"kh":0,"kf":29,"ko":31,"kd":11},
{"s":136,"h":0,"f":30,"o":30,"d":30,"bh":0,"bf":32,"bo":29,"bd":27,"gh":0,"gf":33,"go":29,"gd":25,"kh":0,"kf":31,"ko":30,"kd":28},
{"s":137,"h":0,"f":30,"o":30,"d":30,"bh":0,"bf":31,"bo":31,"bd":31,"gh":0,"gf":31,"go":31,"gd":32,"kh":0,"kf":30,"ko":30,"kd":31},
{"s":138,"h":0,"f":30,"o":30,"d":30,"bh":0,"bf":29,"bo":30,"bd":29,"gh":0,"gf":28,"go":30,"gd":28,"kh":0,"kf":30,"ko":30,"kd":29},
{"s":139,"h":0,"f":30,"o":30,"d":30,"bh":0,"bf":31,"bo":29,"bd":32,"gh":0,"gf":31,"go":29,"gd":33,"kh":0,"kf":30,"ko":30,"kd":31},
{"s":140,"h":0,"f":30,"o":30,"d":30,"bh":0,"bf":30,"bo":31,"bd":30,"gh":0,"gf":30,"go":31,"gd":29,"kh":0,"kf":30,"ko":30,"kd":30}
]
},
"spacing":2,
"resolve":{"scale":{"color":"independent"},"legend":{"color":"independent"}},
"vconcat":[
{"spacing":8,"resolve":{"scale":{"color":"independent"},"legend":{"color":"independent"}},"vconcat":[
{"spacing":15,"resolve":{"scale":{"color":"independent"},"legend":{"color":"independent"}},"hconcat":[
{"title":{"text":"a","anchor":"start","frame":"bounds","fontSize":16,"fontWeight":"bold","offset":-12,"dx":-5},"vconcat":[{"width":164,"height":115,"title":{"text":"KNN test set-3","frame":"group","anchor":"middle","fontSize":10,"fontWeight":"normal","offset":5},"view":{"stroke":"#aaa"},"resolve":{"scale":{"x":"independent","y":"independent"}},"layer":[
{"data":{"name":"cm"},"transform":[{"filter":"datum.m=='a'"}],"mark":{"type":"rect"},"encoding":{"x":{"field":"p","type":"ordinal","scale":{"domain":[1,2,3,4,5,6,7,8,9,10,11,12,13,14,15,16,17,18,19,20,21,22,23,24,25,26,27,28,29,30,31,32,33,34,35,36,37,38,39,40,41,42,43,44,45,46,47],"paddingInner":0,"paddingOuter":0},"axis":{"values":[4,8,12,16,20,24,28,32,36,40,44],"title":"Predicted label","labelAngle":0,"grid":true,"gridColor":"#e3e3e3","bandPosition":0.5,"domainColor":"#777","tickColor":"#777","labelFontSize":9,"titleFontSize":10,"titleFontWeight":"normal","labelPadding":2,"titlePadding":3,"zindex":0}},"y":{"field":"t","type":"ordinal","scale":{"domain":[1,2,3,4,5,6,7,8,9,10,11,12,13,14,15,16,17,18,19,20,21,22,23,24,25,26,27,28,29,30,31,32,33,34,35,36,37,38,39,40,41,42,43,44,45,46,47],"paddingInner":0,"paddingOuter":0},"axis":{"values":[4,8,12,16,20,24,28,32,36,40,44],"title":"Actual label","grid":true,"gridColor":"#e3e3e3","bandPosition":0.5,"domainColor":"#777","tickColor":"#777","labelFontSize":9,"titleFontSize":10,"titleFontWeight":"normal","labelPadding":2,"titlePadding":3,"zindex":0}},"color":{"field":"v","type":"quantitative","scale":{"domain":[0,0.25,0.625,1],"range":["#ffffff","#ffff00","#ff0000","#000000"],"interpolate":"rgb"},"legend":{"title":null,"gradientLength":115,"gradientThickness":4,"offset":1,"labelFontSize":7.5,"values":[0,0.2,0.4,0.6,0.8,1],"format":"~g","gradientStrokeColor":"#444","gradientStrokeWidth":1,"labelOffset":2,"padding":0}}}},
{"data":{"values":[{"acc":"92.91%"}]},"layer":[{"mark":{"type":"rect","fill":"#fff","stroke":"#666","strokeWidth":1},"encoding":{"x":{"datum":35,"type":"quantitative","scale":{"domain":[0.5,47.5],"nice":false,"zero":false},"axis":null},"x2":{"datum":44.5},"y":{"datum":4.3,"type":"quantitative","scale":{"domain":[0.5,47.5],"nice":false,"zero":false,"reverse":true},"axis":null},"y2":{"datum":10}}},{"mark":{"type":"text","fontSize":9.5,"baseline":"middle"},"encoding":{"text":{"field":"acc"},"x":{"datum":39.75,"type":"quantitative"},"y":{"datum":7.2,"type":"quantitative"}}}]}
]}]},
{"title":{"text":"b","anchor":"start","frame":"bounds","fontSize":16,"fontWeight":"bold","offset":-12,"dx":-5},"vconcat":[{"width":164,"height":115,"title":{"text":"Adaboost-tree test set-3","frame":"group","anchor":"middle","fontSize":10,"fontWeight":"normal","offset":5},"view":{"stroke":"#aaa"},"resolve":{"scale":{"x":"independent","y":"independent"}},"layer":[
{"data":{"name":"cm"},"transform":[{"filter":"datum.m=='b'"}],"mark":{"type":"rect"},"encoding":{"x":{"field":"p","type":"ordinal","scale":{"domain":[1,2,3,4,5,6,7,8,9,10,11,12,13,14,15,16,17,18,19,20,21,22,23,24,25,26,27,28,29,30,31,32,33,34,35,36,37,38,39,40,41,42,43,44,45,46,47],"paddingInner":0,"paddingOuter":0},"axis":{"values":[4,8,12,16,20,24,28,32,36,40,44],"title":"Predicted label","labelAngle":0,"grid":true,"gridColor":"#e3e3e3","bandPosition":0.5,"domainColor":"#777","tickColor":"#777","labelFontSize":9,"titleFontSize":10,"titleFontWeight":"normal","labelPadding":2,"titlePadding":3,"zindex":0}},"y":{"field":"t","type":"ordinal","scale":{"domain":[1,2,3,4,5,6,7,8,9,10,11,12,13,14,15,16,17,18,19,20,21,22,23,24,25,26,27,28,29,30,31,32,33,34,35,36,37,38,39,40,41,42,43,44,45,46,47],"paddingInner":0,"paddingOuter":0},"axis":{"values":[4,8,12,16,20,24,28,32,36,40,44],"title":"Actual label","grid":true,"gridColor":"#e3e3e3","bandPosition":0.5,"domainColor":"#777","tickColor":"#777","labelFontSize":9,"titleFontSize":10,"titleFontWeight":"normal","labelPadding":2,"titlePadding":3,"zindex":0}},"color":{"field":"v","type":"quantitative","scale":{"domain":[0,0.25,0.625,1],"range":["#ffffff","#ffff00","#ff0000","#000000"],"interpolate":"rgb"},"legend":{"title":null,"gradientLength":115,"gradientThickness":4,"offset":1,"labelFontSize":7.5,"values":[0,0.2,0.4,0.6,0.8,1],"format":"~g","gradientStrokeColor":"#444","gradientStrokeWidth":1,"labelOffset":2,"padding":0}}}},
{"data":{"values":[{"acc":"95.04%"}]},"layer":[{"mark":{"type":"rect","fill":"#fff","stroke":"#666","strokeWidth":1},"encoding":{"x":{"datum":35,"type":"quantitative","scale":{"domain":[0.5,47.5],"nice":false,"zero":false},"axis":null},"x2":{"datum":44.5},"y":{"datum":4.3,"type":"quantitative","scale":{"domain":[0.5,47.5],"nice":false,"zero":false,"reverse":true},"axis":null},"y2":{"datum":10}}},{"mark":{"type":"text","fontSize":9.5,"baseline":"middle"},"encoding":{"text":{"field":"acc"},"x":{"datum":39.75,"type":"quantitative"},"y":{"datum":7.2,"type":"quantitative"}}}]}
]}]},
{"title":{"text":"c","anchor":"start","frame":"bounds","fontSize":16,"fontWeight":"bold","offset":-12,"dx":-5},"vconcat":[{"width":164,"height":115,"title":{"text":"SVM test set-3","frame":"group","anchor":"middle","fontSize":10,"fontWeight":"normal","offset":5},"view":{"stroke":"#aaa"},"resolve":{"scale":{"x":"independent","y":"independent"}},"layer":[
{"data":{"name":"cm"},"transform":[{"filter":"datum.m=='c'"}],"mark":{"type":"rect"},"encoding":{"x":{"field":"p","type":"ordinal","scale":{"domain":[1,2,3,4,5,6,7,8,9,10,11,12,13,14,15,16,17,18,19,20,21,22,23,24,25,26,27,28,29,30,31,32,33,34,35,36,37,38,39,40,41,42,43,44,45,46,47],"paddingInner":0,"paddingOuter":0},"axis":{"values":[4,8,12,16,20,24,28,32,36,40,44],"title":"Predicted label","labelAngle":0,"grid":true,"gridColor":"#e3e3e3","bandPosition":0.5,"domainColor":"#777","tickColor":"#777","labelFontSize":9,"titleFontSize":10,"titleFontWeight":"normal","labelPadding":2,"titlePadding":3,"zindex":0}},"y":{"field":"t","type":"ordinal","scale":{"domain":[1,2,3,4,5,6,7,8,9,10,11,12,13,14,15,16,17,18,19,20,21,22,23,24,25,26,27,28,29,30,31,32,33,34,35,36,37,38,39,40,41,42,43,44,45,46,47],"paddingInner":0,"paddingOuter":0},"axis":{"values":[4,8,12,16,20,24,28,32,36,40,44],"title":"Actual label","grid":true,"gridColor":"#e3e3e3","bandPosition":0.5,"domainColor":"#777","tickColor":"#777","labelFontSize":9,"titleFontSize":10,"titleFontWeight":"normal","labelPadding":2,"titlePadding":3,"zindex":0}},"color":{"field":"v","type":"quantitative","scale":{"domain":[0,0.25,0.625,1],"range":["#ffffff","#ffff00","#ff0000","#000000"],"interpolate":"rgb"},"legend":{"title":null,"gradientLength":115,"gradientThickness":4,"offset":1,"labelFontSize":7.5,"values":[0,0.2,0.4,0.6,0.8,1],"format":"~g","gradientStrokeColor":"#444","gradientStrokeWidth":1,"labelOffset":2,"padding":0}}}},
{"data":{"values":[{"acc":"92.20%"}]},"layer":[{"mark":{"type":"rect","fill":"#fff","stroke":"#666","strokeWidth":1},"encoding":{"x":{"datum":35,"type":"quantitative","scale":{"domain":[0.5,47.5],"nice":false,"zero":false},"axis":null},"x2":{"datum":44.5},"y":{"datum":4.3,"type":"quantitative","scale":{"domain":[0.5,47.5],"nice":false,"zero":false,"reverse":true},"axis":null},"y2":{"datum":10}}},{"mark":{"type":"text","fontSize":9.5,"baseline":"middle"},"encoding":{"text":{"field":"acc"},"x":{"datum":39.75,"type":"quantitative"},"y":{"datum":7.2,"type":"quantitative"}}}]}
]}]}
]},
{"spacing":15,"resolve":{"scale":{"color":"independent"},"legend":{"color":"independent"}},"hconcat":[
{"title":{"text":"d","anchor":"start","frame":"bounds","fontSize":16,"fontWeight":"bold","offset":-12,"dx":-5},"vconcat":[{"width":164,"height":115,"title":{"text":"BPNN test set-3","frame":"group","anchor":"middle","fontSize":10,"fontWeight":"normal","offset":5},"view":{"stroke":"#aaa"},"resolve":{"scale":{"x":"independent","y":"independent"}},"layer":[
{"data":{"name":"cm"},"transform":[{"filter":"datum.m=='d'"}],"mark":{"type":"rect"},"encoding":{"x":{"field":"p","type":"ordinal","scale":{"domain":[1,2,3,4,5,6,7,8,9,10,11,12,13,14,15,16,17,18,19,20,21,22,23,24,25,26,27,28,29,30,31,32,33,34,35,36,37,38,39,40,41,42,43,44,45,46,47],"paddingInner":0,"paddingOuter":0},"axis":{"values":[4,8,12,16,20,24,28,32,36,40,44],"title":"Predicted label","labelAngle":0,"grid":true,"gridColor":"#e3e3e3","bandPosition":0.5,"domainColor":"#777","tickColor":"#777","labelFontSize":9,"titleFontSize":10,"titleFontWeight":"normal","labelPadding":2,"titlePadding":3,"zindex":0}},"y":{"field":"t","type":"ordinal","scale":{"domain":[1,2,3,4,5,6,7,8,9,10,11,12,13,14,15,16,17,18,19,20,21,22,23,24,25,26,27,28,29,30,31,32,33,34,35,36,37,38,39,40,41,42,43,44,45,46,47],"paddingInner":0,"paddingOuter":0},"axis":{"values":[4,8,12,16,20,24,28,32,36,40,44],"title":"Actual label","grid":true,"gridColor":"#e3e3e3","bandPosition":0.5,"domainColor":"#777","tickColor":"#777","labelFontSize":9,"titleFontSize":10,"titleFontWeight":"normal","labelPadding":2,"titlePadding":3,"zindex":0}},"color":{"field":"v","type":"quantitative","scale":{"domain":[0,0.25,0.625,1],"range":["#ffffff","#ffff00","#ff0000","#000000"],"interpolate":"rgb"},"legend":{"title":null,"gradientLength":115,"gradientThickness":4,"offset":1,"labelFontSize":7.5,"values":[0,0.2,0.4,0.6,0.8,1],"format":"~g","gradientStrokeColor":"#444","gradientStrokeWidth":1,"labelOffset":2,"padding":0}}}},
{"data":{"values":[{"acc":"86.52%"}]},"layer":[{"mark":{"type":"rect","fill":"#fff","stroke":"#666","strokeWidth":1},"encoding":{"x":{"datum":35,"type":"quantitative","scale":{"domain":[0.5,47.5],"nice":false,"zero":false},"axis":null},"x2":{"datum":44.5},"y":{"datum":4.3,"type":"quantitative","scale":{"domain":[0.5,47.5],"nice":false,"zero":false,"reverse":true},"axis":null},"y2":{"datum":10}}},{"mark":{"type":"text","fontSize":9.5,"baseline":"middle"},"encoding":{"text":{"field":"acc"},"x":{"datum":39.75,"type":"quantitative"},"y":{"datum":7.2,"type":"quantitative"}}}]}
]}]},
{"title":{"text":"e","anchor":"start","frame":"bounds","fontSize":16,"fontWeight":"bold","offset":-12,"dx":-5},"vconcat":[{"width":164,"height":115,"title":{"text":"GA-BPNN test set-3","frame":"group","anchor":"middle","fontSize":10,"fontWeight":"normal","offset":5},"view":{"stroke":"#aaa"},"resolve":{"scale":{"x":"independent","y":"independent"}},"layer":[
{"data":{"name":"cm"},"transform":[{"filter":"datum.m=='e'"}],"mark":{"type":"rect"},"encoding":{"x":{"field":"p","type":"ordinal","scale":{"domain":[1,2,3,4,5,6,7,8,9,10,11,12,13,14,15,16,17,18,19,20,21,22,23,24,25,26,27,28,29,30,31,32,33,34,35,36,37,38,39,40,41,42,43,44,45,46,47],"paddingInner":0,"paddingOuter":0},"axis":{"values":[4,8,12,16,20,24,28,32,36,40,44],"title":"Predicted label","labelAngle":0,"grid":true,"gridColor":"#e3e3e3","bandPosition":0.5,"domainColor":"#777","tickColor":"#777","labelFontSize":9,"titleFontSize":10,"titleFontWeight":"normal","labelPadding":2,"titlePadding":3,"zindex":0}},"y":{"field":"t","type":"ordinal","scale":{"domain":[1,2,3,4,5,6,7,8,9,10,11,12,13,14,15,16,17,18,19,20,21,22,23,24,25,26,27,28,29,30,31,32,33,34,35,36,37,38,39,40,41,42,43,44,45,46,47],"paddingInner":0,"paddingOuter":0},"axis":{"values":[4,8,12,16,20,24,28,32,36,40,44],"title":"Actual label","grid":true,"gridColor":"#e3e3e3","bandPosition":0.5,"domainColor":"#777","tickColor":"#777","labelFontSize":9,"titleFontSize":10,"titleFontWeight":"normal","labelPadding":2,"titlePadding":3,"zindex":0}},"color":{"field":"v","type":"quantitative","scale":{"domain":[0,0.25,0.625,1],"range":["#ffffff","#ffff00","#ff0000","#000000"],"interpolate":"rgb"},"legend":{"title":null,"gradientLength":115,"gradientThickness":4,"offset":1,"labelFontSize":7.5,"values":[0,0.2,0.4,0.6,0.8,1],"format":"~g","gradientStrokeColor":"#444","gradientStrokeWidth":1,"labelOffset":2,"padding":0}}}},
{"data":{"values":[{"acc":"85.82%"}]},"layer":[{"mark":{"type":"rect","fill":"#fff","stroke":"#666","strokeWidth":1},"encoding":{"x":{"datum":35,"type":"quantitative","scale":{"domain":[0.5,47.5],"nice":false,"zero":false},"axis":null},"x2":{"datum":44.5},"y":{"datum":4.3,"type":"quantitative","scale":{"domain":[0.5,47.5],"nice":false,"zero":false,"reverse":true},"axis":null},"y2":{"datum":10}}},{"mark":{"type":"text","fontSize":9.5,"baseline":"middle"},"encoding":{"text":{"field":"acc"},"x":{"datum":39.75,"type":"quantitative"},"y":{"datum":7.2,"type":"quantitative"}}}]}
]}]},
{"title":{"text":"f","anchor":"start","frame":"bounds","fontSize":16,"fontWeight":"bold","offset":-12,"dx":-5},"vconcat":[{"width":164,"height":115,"title":{"text":"Bagging-BPNN test set-3","frame":"group","anchor":"middle","fontSize":10,"fontWeight":"normal","offset":5},"view":{"stroke":"#aaa"},"resolve":{"scale":{"x":"independent","y":"independent"}},"layer":[
{"data":{"name":"cm"},"transform":[{"filter":"datum.m=='f'"}],"mark":{"type":"rect"},"encoding":{"x":{"field":"p","type":"ordinal","scale":{"domain":[1,2,3,4,5,6,7,8,9,10,11,12,13,14,15,16,17,18,19,20,21,22,23,24,25,26,27,28,29,30,31,32,33,34,35,36,37,38,39,40,41,42,43,44,45,46,47],"paddingInner":0,"paddingOuter":0},"axis":{"values":[4,8,12,16,20,24,28,32,36,40,44],"title":"Predicted label","labelAngle":0,"grid":true,"gridColor":"#e3e3e3","bandPosition":0.5,"domainColor":"#777","tickColor":"#777","labelFontSize":9,"titleFontSize":10,"titleFontWeight":"normal","labelPadding":2,"titlePadding":3,"zindex":0}},"y":{"field":"t","type":"ordinal","scale":{"domain":[1,2,3,4,5,6,7,8,9,10,11,12,13,14,15,16,17,18,19,20,21,22,23,24,25,26,27,28,29,30,31,32,33,34,35,36,37,38,39,40,41,42,43,44,45,46,47],"paddingInner":0,"paddingOuter":0},"axis":{"values":[4,8,12,16,20,24,28,32,36,40,44],"title":"Actual label","grid":true,"gridColor":"#e3e3e3","bandPosition":0.5,"domainColor":"#777","tickColor":"#777","labelFontSize":9,"titleFontSize":10,"titleFontWeight":"normal","labelPadding":2,"titlePadding":3,"zindex":0}},"color":{"field":"v","type":"quantitative","scale":{"domain":[0,0.25,0.625,1],"range":["#ffffff","#ffff00","#ff0000","#000000"],"interpolate":"rgb"},"legend":{"title":null,"gradientLength":115,"gradientThickness":4,"offset":1,"labelFontSize":7.5,"values":[0,0.2,0.4,0.6,0.8,1],"format":"~g","gradientStrokeColor":"#444","gradientStrokeWidth":1,"labelOffset":2,"padding":0}}}},
{"data":{"values":[{"acc":"93.62%"}]},"layer":[{"mark":{"type":"rect","fill":"#fff","stroke":"#666","strokeWidth":1},"encoding":{"x":{"datum":35,"type":"quantitative","scale":{"domain":[0.5,47.5],"nice":false,"zero":false},"axis":null},"x2":{"datum":44.5},"y":{"datum":4.3,"type":"quantitative","scale":{"domain":[0.5,47.5],"nice":false,"zero":false,"reverse":true},"axis":null},"y2":{"datum":10}}},{"mark":{"type":"text","fontSize":9.5,"baseline":"middle"},"encoding":{"text":{"field":"acc"},"x":{"datum":39.75,"type":"quantitative"},"y":{"datum":7.2,"type":"quantitative"}}}]}
]}]}
]}
]},
{"spacing":21,"resolve":{"scale":{"color":"independent"},"legend":{"color":"independent"}},"hconcat":[
{"title":{"text":"g","anchor":"start","frame":"bounds","fontSize":16,"fontWeight":"bold","offset":-12,"dx":-3},"spacing":5,"bounds":"flush","resolve":{"scale":{"color":"independent"},"legend":{"color":"independent"}},"vconcat":[
{"width":166,"height":24,"data":{"name":"ts"},"title":{"text":"MSE = 6.60","anchor":"end","frame":"group","color":"#ff2222","fontSize":10,"fontWeight":"bold","offset":2},"layer":[
{"mark":{"type":"line","strokeWidth":2},"encoding":{"x":{"field":"s","type":"quantitative","scale":{"domain":[0,140],"nice":false},"axis":{"values":[0,20,40,60,80,100,120,140],"labels":false,"title":null}},"y":{"field":"bh","type":"quantitative","scale":{"domain":[-8,62],"nice":false,"zero":false},"axis":{"values":[0,20,40,60],"title":["H₂S","(ppm)"],"titleFontWeight":"bold","titleFontSize":8,"labelFontSize":7.5}},"color":{"datum":"Pred.","scale":{"domain":["Pred.","Act."],"range":["#ff9cff","#f020f0"]},"legend":{"orient":"none","legendX":133,"legendY":2,"title":null}}}},
{"mark":{"type":"line","strokeWidth":1.2},"encoding":{"x":{"field":"s","type":"quantitative"},"y":{"field":"h","type":"quantitative"},"color":{"datum":"Act."}}},
{"data":{"values":[{}]},"mark":{"type":"text","text":["BPNN","test set-3"],"align":"left","baseline":"top","fontSize":8,"fontWeight":"bold","lineHeight":10},"encoding":{"x":{"datum":3},"y":{"datum":57}}}]},
{"width":166,"height":24,"data":{"name":"ts"},"layer":[
{"mark":{"type":"line","strokeWidth":2},"encoding":{"x":{"field":"s","type":"quantitative","scale":{"domain":[0,140],"nice":false},"axis":{"values":[0,20,40,60,80,100,120,140],"labels":false,"title":null}},"y":{"field":"bf","type":"quantitative","scale":{"domain":[-8,62],"nice":false,"zero":false},"axis":{"values":[0,20,40,60],"title":["SO₂F₂","(ppm)"],"titleFontWeight":"bold","titleFontSize":8,"labelFontSize":7.5}},"color":{"datum":"Pred.","scale":{"domain":["Pred.","Act."],"range":["#ffa3a3","#ff3c3c"]},"legend":{"orient":"none","legendX":95,"legendY":1,"title":null}}}},
{"mark":{"type":"line","strokeWidth":1.2},"encoding":{"x":{"field":"s","type":"quantitative"},"y":{"field":"f","type":"quantitative"},"color":{"datum":"Act."}}}]},
{"width":166,"height":24,"data":{"name":"ts"},"layer":[
{"mark":{"type":"line","strokeWidth":2},"encoding":{"x":{"field":"s","type":"quantitative","scale":{"domain":[0,140],"nice":false},"axis":{"values":[0,20,40,60,80,100,120,140],"labels":false,"title":null}},"y":{"field":"bo","type":"quantitative","scale":{"domain":[-8,62],"nice":false,"zero":false},"axis":{"values":[0,20,40,60],"title":["SOF₂","(ppm)"],"titleFontWeight":"bold","titleFontSize":8,"labelFontSize":7.5}},"color":{"datum":"Pred.","scale":{"domain":["Pred.","Act."],"range":["#8fd18f","#2e9e2e"]},"legend":{"orient":"none","legendX":48,"legendY":1,"title":null}}}},
{"mark":{"type":"line","strokeWidth":1.2},"encoding":{"x":{"field":"s","type":"quantitative"},"y":{"field":"o","type":"quantitative"},"color":{"datum":"Act."}}}]},
{"width":166,"height":24,"data":{"name":"ts"},"layer":[
{"mark":{"type":"line","strokeWidth":2},"encoding":{"x":{"field":"s","type":"quantitative","scale":{"domain":[0,140],"nice":false},"axis":{"values":[0,20,40,60,80,100,120,140],"title":"Test sample","titleFontWeight":"bold","titleFontSize":9.5,"labelFontSize":8}},"y":{"field":"bd","type":"quantitative","scale":{"domain":[-8,62],"nice":false,"zero":false},"axis":{"values":[0,20,40,60],"title":["SO₂","(ppm)"],"titleFontWeight":"bold","titleFontSize":8,"labelFontSize":7.5}},"color":{"datum":"Pred.","scale":{"domain":["Pred.","Act."],"range":["#8a8aff","#3535ff"]},"legend":{"orient":"none","legendX":2,"legendY":-3,"title":null}}}},
{"mark":{"type":"line","strokeWidth":1.2},"encoding":{"x":{"field":"s","type":"quantitative"},"y":{"field":"d","type":"quantitative"},"color":{"datum":"Act."}}}]}
]},
{"title":{"text":"h","anchor":"start","frame":"bounds","fontSize":16,"fontWeight":"bold","offset":-12,"dx":-3},"spacing":5,"bounds":"flush","resolve":{"scale":{"color":"independent"},"legend":{"color":"independent"}},"vconcat":[
{"width":166,"height":24,"data":{"name":"ts"},"title":{"text":"MSE = 7.04","anchor":"end","frame":"group","color":"#ff2222","fontSize":10,"fontWeight":"bold","offset":2},"layer":[
{"mark":{"type":"line","strokeWidth":2},"encoding":{"x":{"field":"s","type":"quantitative","scale":{"domain":[0,140],"nice":false},"axis":{"values":[0,20,40,60,80,100,120,140],"labels":false,"title":null}},"y":{"field":"gh","type":"quantitative","scale":{"domain":[-8,62],"nice":false,"zero":false},"axis":{"values":[0,20,40,60],"title":["H₂S","(ppm)"],"titleFontWeight":"bold","titleFontSize":8,"labelFontSize":7.5}},"color":{"datum":"Pred.","scale":{"domain":["Pred.","Act."],"range":["#ff9cff","#f020f0"]},"legend":{"orient":"none","legendX":133,"legendY":2,"title":null}}}},
{"mark":{"type":"line","strokeWidth":1.2},"encoding":{"x":{"field":"s","type":"quantitative"},"y":{"field":"h","type":"quantitative"},"color":{"datum":"Act."}}},
{"data":{"values":[{}]},"mark":{"type":"text","text":["GA-BPNN","test set-3"],"align":"left","baseline":"top","fontSize":8,"fontWeight":"bold","lineHeight":10},"encoding":{"x":{"datum":3},"y":{"datum":57}}}]},
{"width":166,"height":24,"data":{"name":"ts"},"layer":[
{"mark":{"type":"line","strokeWidth":2},"encoding":{"x":{"field":"s","type":"quantitative","scale":{"domain":[0,140],"nice":false},"axis":{"values":[0,20,40,60,80,100,120,140],"labels":false,"title":null}},"y":{"field":"gf","type":"quantitative","scale":{"domain":[-8,62],"nice":false,"zero":false},"axis":{"values":[0,20,40,60],"title":["SO₂F₂","(ppm)"],"titleFontWeight":"bold","titleFontSize":8,"labelFontSize":7.5}},"color":{"datum":"Pred.","scale":{"domain":["Pred.","Act."],"range":["#ffa3a3","#ff3c3c"]},"legend":{"orient":"none","legendX":95,"legendY":1,"title":null}}}},
{"mark":{"type":"line","strokeWidth":1.2},"encoding":{"x":{"field":"s","type":"quantitative"},"y":{"field":"f","type":"quantitative"},"color":{"datum":"Act."}}}]},
{"width":166,"height":24,"data":{"name":"ts"},"layer":[
{"mark":{"type":"line","strokeWidth":2},"encoding":{"x":{"field":"s","type":"quantitative","scale":{"domain":[0,140],"nice":false},"axis":{"values":[0,20,40,60,80,100,120,140],"labels":false,"title":null}},"y":{"field":"go","type":"quantitative","scale":{"domain":[-8,62],"nice":false,"zero":false},"axis":{"values":[0,20,40,60],"title":["SOF₂","(ppm)"],"titleFontWeight":"bold","titleFontSize":8,"labelFontSize":7.5}},"color":{"datum":"Pred.","scale":{"domain":["Pred.","Act."],"range":["#8fd18f","#2e9e2e"]},"legend":{"orient":"none","legendX":48,"legendY":1,"title":null}}}},
{"mark":{"type":"line","strokeWidth":1.2},"encoding":{"x":{"field":"s","type":"quantitative"},"y":{"field":"o","type":"quantitative"},"color":{"datum":"Act."}}}]},
{"width":166,"height":24,"data":{"name":"ts"},"layer":[
{"mark":{"type":"line","strokeWidth":2},"encoding":{"x":{"field":"s","type":"quantitative","scale":{"domain":[0,140],"nice":false},"axis":{"values":[0,20,40,60,80,100,120,140],"title":"Test sample","titleFontWeight":"bold","titleFontSize":9.5,"labelFontSize":8}},"y":{"field":"gd","type":"quantitative","scale":{"domain":[-8,62],"nice":false,"zero":false},"axis":{"values":[0,20,40,60],"title":["SO₂","(ppm)"],"titleFontWeight":"bold","titleFontSize":8,"labelFontSize":7.5}},"color":{"datum":"Pred.","scale":{"domain":["Pred.","Act."],"range":["#8a8aff","#3535ff"]},"legend":{"orient":"none","legendX":2,"legendY":-3,"title":null}}}},
{"mark":{"type":"line","strokeWidth":1.2},"encoding":{"x":{"field":"s","type":"quantitative"},"y":{"field":"d","type":"quantitative"},"color":{"datum":"Act."}}}]}
]},
{"title":{"text":"i","anchor":"start","frame":"bounds","fontSize":16,"fontWeight":"bold","offset":-12,"dx":-3},"spacing":5,"bounds":"flush","resolve":{"scale":{"color":"independent"},"legend":{"color":"independent"}},"vconcat":[
{"width":166,"height":24,"data":{"name":"ts"},"title":{"text":"MSE = 6.25","anchor":"end","frame":"group","color":"#ff2222","fontSize":10,"fontWeight":"bold","offset":2},"layer":[
{"mark":{"type":"line","strokeWidth":2},"encoding":{"x":{"field":"s","type":"quantitative","scale":{"domain":[0,140],"nice":false},"axis":{"values":[0,20,40,60,80,100,120,140],"labels":false,"title":null}},"y":{"field":"kh","type":"quantitative","scale":{"domain":[-8,62],"nice":false,"zero":false},"axis":{"values":[0,20,40,60],"title":["H₂S","(ppm)"],"titleFontWeight":"bold","titleFontSize":8,"labelFontSize":7.5}},"color":{"datum":"Pred.","scale":{"domain":["Pred.","Act."],"range":["#ff9cff","#f020f0"]},"legend":{"orient":"none","legendX":133,"legendY":2,"title":null}}}},
{"mark":{"type":"line","strokeWidth":1.2},"encoding":{"x":{"field":"s","type":"quantitative"},"y":{"field":"h","type":"quantitative"},"color":{"datum":"Act."}}},
{"data":{"values":[{}]},"mark":{"type":"text","text":["Bagging-BPNN","test set-3"],"align":"left","baseline":"top","fontSize":8,"fontWeight":"bold","lineHeight":10},"encoding":{"x":{"datum":3},"y":{"datum":57}}}]},
{"width":166,"height":24,"data":{"name":"ts"},"layer":[
{"mark":{"type":"line","strokeWidth":2},"encoding":{"x":{"field":"s","type":"quantitative","scale":{"domain":[0,140],"nice":false},"axis":{"values":[0,20,40,60,80,100,120,140],"labels":false,"title":null}},"y":{"field":"kf","type":"quantitative","scale":{"domain":[-8,62],"nice":false,"zero":false},"axis":{"values":[0,20,40,60],"title":["SO₂F₂","(ppm)"],"titleFontWeight":"bold","titleFontSize":8,"labelFontSize":7.5}},"color":{"datum":"Pred.","scale":{"domain":["Pred.","Act."],"range":["#ffa3a3","#ff3c3c"]},"legend":{"orient":"none","legendX":95,"legendY":1,"title":null}}}},
{"mark":{"type":"line","strokeWidth":1.2},"encoding":{"x":{"field":"s","type":"quantitative"},"y":{"field":"f","type":"quantitative"},"color":{"datum":"Act."}}}]},
{"width":166,"height":24,"data":{"name":"ts"},"layer":[
{"mark":{"type":"line","strokeWidth":2},"encoding":{"x":{"field":"s","type":"quantitative","scale":{"domain":[0,140],"nice":false},"axis":{"values":[0,20,40,60,80,100,120,140],"labels":false,"title":null}},"y":{"field":"ko","type":"quantitative","scale":{"domain":[-8,62],"nice":false,"zero":false},"axis":{"values":[0,20,40,60],"title":["SOF₂","(ppm)"],"titleFontWeight":"bold","titleFontSize":8,"labelFontSize":7.5}},"color":{"datum":"Pred.","scale":{"domain":["Pred.","Act."],"range":["#8fd18f","#2e9e2e"]},"legend":{"orient":"none","legendX":48,"legendY":1,"title":null}}}},
{"mark":{"type":"line","strokeWidth":1.2},"encoding":{"x":{"field":"s","type":"quantitative"},"y":{"field":"o","type":"quantitative"},"color":{"datum":"Act."}}}]},
{"width":166,"height":24,"data":{"name":"ts"},"layer":[
{"mark":{"type":"line","strokeWidth":2},"encoding":{"x":{"field":"s","type":"quantitative","scale":{"domain":[0,140],"nice":false},"axis":{"values":[0,20,40,60,80,100,120,140],"title":"Test sample","titleFontWeight":"bold","titleFontSize":9.5,"labelFontSize":8}},"y":{"field":"kd","type":"quantitative","scale":{"domain":[-8,62],"nice":false,"zero":false},"axis":{"values":[0,20,40,60],"title":["SO₂","(ppm)"],"titleFontWeight":"bold","titleFontSize":8,"labelFontSize":7.5}},"color":{"datum":"Pred.","scale":{"domain":["Pred.","Act."],"range":["#8a8aff","#3535ff"]},"legend":{"orient":"none","legendX":2,"legendY":-3,"title":null}}}},
{"mark":{"type":"line","strokeWidth":1.2},"encoding":{"x":{"field":"s","type":"quantitative"},"y":{"field":"d","type":"quantitative"},"color":{"datum":"Act."}}}]}
]}
]}
]
}
